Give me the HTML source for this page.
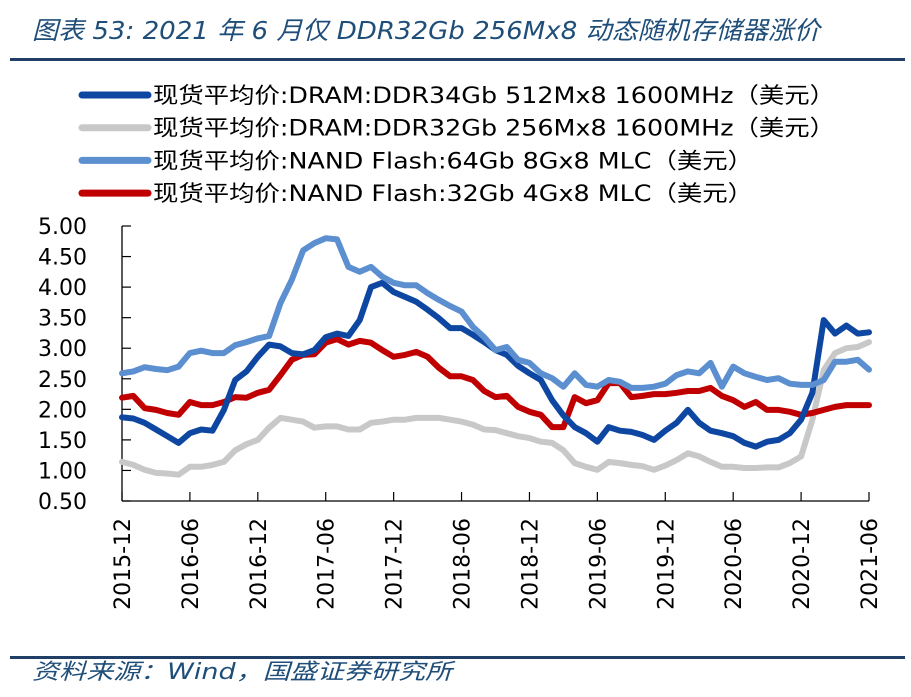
<!DOCTYPE html>
<html><head><meta charset="utf-8">
<style>
body{margin:0;background:#fff;width:911px;height:693px;overflow:hidden;font-family:"DejaVu Sans","Noto Sans CJK SC",sans-serif;}
</style></head>
<body>
<svg id="chart" width="911" height="693" xmlns="http://www.w3.org/2000/svg">
<text x="32" y="39" font-size="25" font-style="italic" fill="#1F4E79" textLength="788" lengthAdjust="spacingAndGlyphs" font-family="DejaVu Sans, Noto Sans CJK SC, sans-serif">图表 53:  2021 年 6 月仅 DDR32Gb 256Mx8 动态随机存储器涨价</text>
<rect x="10" y="58" width="895" height="3" fill="#1F3F66"/>
<rect x="10" y="656" width="895" height="3" fill="#1F3F66"/>
<text x="32" y="679" font-size="22" font-style="italic" fill="#1F4E79" textLength="420" lengthAdjust="spacingAndGlyphs" font-family="DejaVu Sans, Noto Sans CJK SC, sans-serif">资料来源：Wind，国盛证券研究所</text>
<g id="legend"></g>
<g id="axes"></g>
<g id="series"></g>
</svg>
<script>
const seriesNames=["现货平均价:DRAM:DDR34Gb 512Mx8 1600MHz（美元）","现货平均价:DRAM:DDR32Gb 256Mx8 1600MHz（美元）","现货平均价:NAND Flash:64Gb 8Gx8 MLC（美元）","现货平均价:NAND Flash:32Gb 4Gx8 MLC（美元）"];
const legendWidths=[682,682,600,600];
const seriesColors=["#0D47A1","#C8C8C8","#5B8FD0","#C00000"];
const xTickLabels=["2015-12","2016-06","2016-12","2017-06","2017-12","2018-06","2018-12","2019-06","2019-12","2020-06","2020-12","2021-06"];
const yTicks=[0.5,1,1.5,2,2.5,3,3.5,4,4.5,5];
// monthly values, 2015-12 .. 2021-06 (67 points)
const ddr4gb=[1.87,1.85,1.78,1.67,1.56,1.45,1.61,1.67,1.65,1.99,2.48,2.62,2.86,3.06,3.03,2.92,2.9,2.97,3.18,3.24,3.2,3.46,4.0,4.07,3.92,3.84,3.76,3.63,3.49,3.33,3.33,3.22,3.1,2.97,2.89,2.71,2.59,2.48,2.15,1.9,1.71,1.61,1.47,1.71,1.65,1.63,1.58,1.5,1.65,1.78,1.99,1.78,1.65,1.61,1.56,1.45,1.39,1.47,1.5,1.61,1.83,2.27,3.46,3.24,3.37,3.24,3.26];
const ddr2gb=[1.14,1.09,1.01,0.96,0.95,0.93,1.06,1.06,1.09,1.14,1.33,1.43,1.5,1.7,1.86,1.83,1.8,1.7,1.72,1.72,1.67,1.67,1.78,1.8,1.83,1.83,1.86,1.86,1.86,1.83,1.8,1.75,1.67,1.66,1.61,1.56,1.53,1.47,1.45,1.33,1.12,1.06,1.01,1.14,1.12,1.09,1.07,1.01,1.08,1.17,1.28,1.23,1.14,1.06,1.06,1.04,1.04,1.05,1.05,1.12,1.23,1.83,2.64,2.92,3.0,3.02,3.1];
const nand64=[2.59,2.62,2.69,2.66,2.64,2.7,2.92,2.96,2.92,2.92,3.05,3.1,3.16,3.2,3.74,4.12,4.6,4.72,4.8,4.78,4.33,4.25,4.33,4.17,4.07,4.03,4.03,3.9,3.79,3.69,3.6,3.35,3.18,2.97,3.02,2.81,2.76,2.59,2.51,2.37,2.59,2.4,2.37,2.48,2.45,2.35,2.35,2.37,2.42,2.56,2.62,2.59,2.76,2.37,2.7,2.59,2.53,2.48,2.51,2.42,2.4,2.4,2.48,2.78,2.78,2.81,2.65];
const nand32=[2.19,2.22,2.02,1.99,1.94,1.91,2.12,2.07,2.07,2.12,2.2,2.19,2.27,2.32,2.56,2.81,2.89,2.9,3.09,3.15,3.06,3.12,3.09,2.97,2.86,2.89,2.94,2.86,2.68,2.54,2.54,2.48,2.3,2.2,2.22,2.04,1.96,1.91,1.71,1.71,2.2,2.1,2.15,2.43,2.43,2.2,2.22,2.25,2.25,2.27,2.3,2.3,2.35,2.22,2.15,2.04,2.12,1.99,1.99,1.96,1.91,1.94,1.99,2.04,2.07,2.07,2.07];
const seriesData=[ddr4gb,ddr2gb,nand64,nand32];

const NS="http://www.w3.org/2000/svg";
const X0=122,X1=869,Y0=501,Y1=226,VMIN=0.5,VMAX=5;
const nMonths=66;
function xScale(i){return X0+(X1-X0)*i/nMonths;}
function yScale(v){return Y0-(v-VMIN)/(VMAX-VMIN)*(Y0-Y1);}
function mk(tag,attrs,parent){const e=document.createElementNS(NS,tag);for(const k in attrs)e.setAttribute(k,attrs[k]);parent.appendChild(e);return e;}

const axes=document.getElementById('axes');
const yAxis=mk('line',{x1:X0,y1:Y0,x2:X0,y2:Y1,stroke:'#000','stroke-width':1.3},axes);


const xAxis=mk('line',{x1:X0,y1:Y0,x2:X1,y2:Y0,stroke:'#000','stroke-width':1.3},axes);


yTicks.forEach(v=>{
  const y=yScale(v);
  const t=mk('line',{x1:X0,y1:y,x2:X0+9,y2:y,stroke:'#000','stroke-width':1.2},axes);
  
  
  const l=mk('text',{x:87,y:y+8,'font-size':22,'text-anchor':'end',fill:'#000'},axes);
  l.textContent=v.toFixed(2);
  
  
});
xTickLabels.forEach((lab,i)=>{
  const x=xScale(i*6);
  const t=mk('line',{x1:x,y1:Y0,x2:x,y2:Y0-9,stroke:'#000','stroke-width':1.2},axes);
  
  
  const l=mk('text',{x:0,y:0,'font-size':22,'text-anchor':'end',fill:'#000',transform:`translate(${x+8},518) rotate(-90)`},axes);
  l.textContent=lab;
  
  
});

const sg=document.getElementById('series');
const order=[1,3,0,2];
order.forEach(s=>{
  const d=seriesData[s].map((v,i)=>(i?'L':'M')+xScale(i).toFixed(1)+','+yScale(v).toFixed(1)).join(' ');
  const p=mk('path',{d:d,fill:'none',stroke:seriesColors[s],'stroke-width':6,'stroke-linejoin':'round','stroke-linecap':'round'},sg);
  
  
});

const lg=document.getElementById('legend');
seriesNames.forEach((n,i)=>{
  const y=95+i*32.7;
  const ln=mk('line',{x1:82,y1:y,x2:148,y2:y,stroke:seriesColors[i],'stroke-width':7,'stroke-linecap':'round'},lg);
  
  
  const t=mk('text',{x:153,y:y+8,'font-size':22,fill:'#000',textLength:legendWidths[i],lengthAdjust:'spacingAndGlyphs'},lg);
  t.textContent=n;
  
  
});
</script>
</body></html>
